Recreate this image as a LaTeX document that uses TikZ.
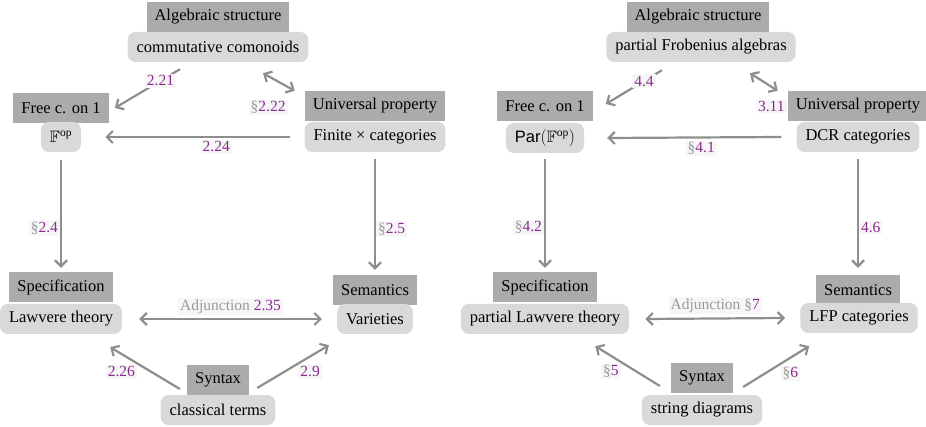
\documentclass[tikz,border=0pt]{standalone}
\usepackage{amssymb}
\usepackage{fontspec}
\setmainfont{Liberation Serif}
\setsansfont{Liberation Sans}
\usetikzlibrary{arrows.meta}
\definecolor{hdr}{HTML}{ABABAB}
\definecolor{bxc}{HTML}{D9D9D9}
\definecolor{arr}{HTML}{8E8E8E}
\definecolor{pur}{HTML}{8A2A8E}
\definecolor{sec}{HTML}{9A9A9A}
\definecolor{lbg}{HTML}{F7F6F7}
\newcommand{\sectmark}{{\color{sec}\S}}
\begin{document}
\begin{tikzpicture}[x=1pt,y=-1pt,
  hd/.style={fill=hdr, inner xsep=8pt, inner ysep=0pt, minimum height=30pt, font=\fontsize{16.5}{18}\selectfont},
  bx/.style={fill=bxc, rounded corners=8pt, inner xsep=9pt, inner ysep=0pt, minimum height=30pt, font=\fontsize{16.5}{18}\selectfont},
  ar/.style={draw=arr, line width=2.2pt, -{Straight Barb[length=6pt,width=12pt]}},
  dar/.style={draw=arr, line width=2.2pt, {Straight Barb[length=6pt,width=12pt]}-{Straight Barb[length=6pt,width=12pt]}},
  lb/.style={fill=lbg, text=pur, inner xsep=2pt, inner ysep=1.5pt, font=\fontsize{15.5}{17}\selectfont}]
\useasboundingbox (0,0) rectangle (926,427);
% ---------- left diagram ----------
\node[hd] (alg) at (218,17) {Algebraic structure};
\node[bx] (comm) at (218,47) {commutative comonoids};
\node[hd] (free) at (61,108) {Free c. on 1};
\node[bx] (fop) at (61,137) {$\mathbb{F}^{\mathrm{op}}$};
\node[hd] (univ) at (375,106) {Universal property};
\node[bx] (fin) at (375,137) {Finite × categories};
\node[hd] (spec) at (61,287) {Specification};
\node[bx] (law) at (61,319) {Lawvere theory};
\node[hd] (sem) at (375,290) {Semantics};
\node[bx] (var) at (375,319) {Varieties};
\node[hd] (syn) at (218,380) {Syntax};
\node[bx] (cls) at (218,410) {classical terms};

\draw[ar] ([shift={(-38pt,-7pt)}]comm.south) -- node[lb,pos=0.3] {2.21} ([xshift=6pt]free.east);
\draw[dar] ([shift={(45pt,-11pt)}]comm.south) -- node[lb,pos=1,anchor=north east,xshift=-6pt,yshift=-8pt] {\sectmark2.22} ([xshift=-10pt]univ.north west);
\draw[ar] ([xshift=-14pt]fin.west) -- node[lb,pos=0.4,below=2pt] {2.24} ([xshift=24pt]fop.east);
\draw[ar] ([yshift=-8pt]fop.south) -- node[lb,pos=0.63,left=0pt] {\sectmark2.4} ([yshift=4pt]spec.north);
\draw[ar] ([yshift=-7pt]fin.south) -- node[lb,pos=0.63,right=0pt] {\sectmark2.5} ([yshift=5pt]sem.north);
\draw[dar] ([xshift=17pt]law.east) -- node[lb,midway,above=3pt] {{\color{sec}Adjunction} 2.35} ([xshift=-15pt]var.west);
\draw[ar] ([shift={(-7pt,-9pt)}]syn.west) -- node[lb,pos=0.6,anchor=north east] {2.26} ([shift={(-12pt,-13pt)}]law.south east);
\draw[ar] ([shift={(8pt,-8pt)}]syn.east) -- node[lb,pos=0.56,anchor=north west] {2.9} ([shift={(-8pt,-11pt)}]var.south west);

% ---------- right diagram ----------
\node[hd] (alg2) at (698,17) {Algebraic structure};
\node[bx] (pfa) at (701,47) {partial Frobenius algebras};
\node[hd] (free2) at (545,106) {Free c. on 1};
\node[bx] (par) at (545,138) {\textsf{Par}$(\mathbb{F}^{\mathrm{op}})$};
\node[hd] (univ2) at (858,106) {Universal property};
\node[bx] (dcr) at (858,137) {DCR categories};
\node[hd] (spec2) at (545,287) {Specification};
\node[bx] (plaw) at (545,319) {partial Lawvere theory};
\node[hd] (sem2) at (858,290) {Semantics};
\node[bx] (lfp) at (859,318) {LFP categories};
\node[hd] (syn2) at (702,378) {Syntax};
\node[bx] (str) at (702,410) {string diagrams};

\draw[ar] ([shift={(-39pt,-8pt)}]pfa.south) -- node[lb,pos=0.32] {4.4} ([shift={(13pt,2pt)}]free2.east);
\draw[dar] ([shift={(49pt,-11pt)}]pfa.south) -- node[lb,pos=1,anchor=north east,xshift=10pt,yshift=-8pt] {3.11} ([xshift=-10pt]univ2.north west);
\draw[ar] ([xshift=-15pt]dcr.west) -- node[lb,pos=0.46,below=2pt] {\sectmark4.1} ([xshift=23pt]par.east);
\draw[ar] ([yshift=-6pt]par.south) -- node[lb,pos=0.63,left=0pt] {\sectmark4.2} ([yshift=4pt]spec2.north);
\draw[ar] ([yshift=-7pt]dcr.south) -- node[lb,pos=0.63,right=0pt] {4.6} ([yshift=7pt]sem2.north);
\draw[dar] ([xshift=16pt]plaw.east) -- node[lb,midway,above=3pt] {{\color{sec}Adjunction \S}7} ([xshift=-15pt]lfp.west);
\draw[ar] ([shift={(-11pt,-8pt)}]syn2.west) -- node[lb,pos=0.59,anchor=north east] {\sectmark5} ([shift={(-34pt,-12pt)}]plaw.south east);
\draw[ar] ([shift={(10pt,-9pt)}]syn2.east) -- node[lb,pos=0.55,anchor=north west] {\sectmark6} ([shift={(9pt,-13pt)}]lfp.south west);
\end{tikzpicture}
\end{document}
